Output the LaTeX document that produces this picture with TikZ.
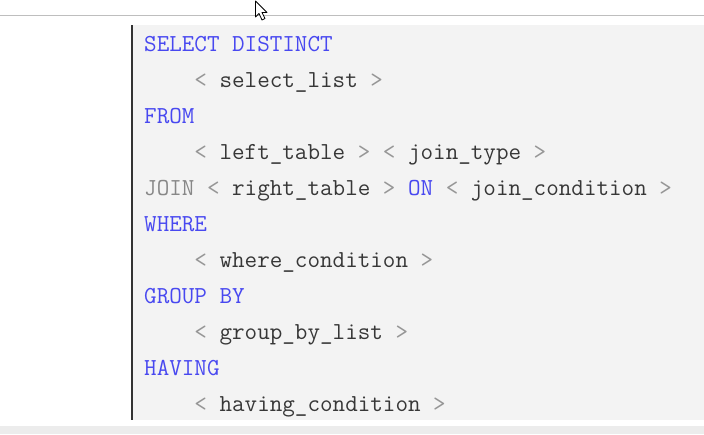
\documentclass[tikz,border=0pt]{standalone}
\usepackage{fontspec}
\definecolor{kw}{RGB}{72,72,240}
\definecolor{br}{RGB}{150,150,150}
\definecolor{idf}{RGB}{55,55,55}
\definecolor{jn}{RGB}{135,135,135}
\definecolor{boxbg}{RGB}{243,243,243}
\definecolor{band}{RGB}{236,236,236}
\definecolor{topline}{RGB}{190,190,190}
\begin{document}
\begin{tikzpicture}[x=1pt,y=-1pt,
  codeline/.style={anchor=base west,inner sep=0pt,font=\ttfamily\fontsize{24.4}{28}\selectfont}]
\newcommand{\K}[1]{\textcolor{kw}{#1}}
\newcommand{\B}[1]{\textcolor{br}{#1}}
\newcommand{\I}[1]{\textcolor{idf}{#1}}
\useasboundingbox (0,0) rectangle (704,434);
\fill[white] (0,0) rectangle (704,434);
% top line
\draw[topline,line width=1pt] (0,15.5) -- (704,15.5);
% code box
\fill[boxbg] (132,25) rectangle (704,420);
\draw[black!80,line width=1.6pt] (132,25) -- (132,420);
% bottom band
\fill[band] (0,426) rectangle (704,434);
% cursor
\draw[black,fill=white,line width=0.8pt,line join=round] (255.5,1) -- (255.5,17) -- (259,13.5) -- (262,20) -- (265,18.5) -- (262,12.5) -- (267,12.5) -- cycle;
% code
\node[codeline] (l1) at (144,51.5) {\K{SELECT DISTINCT}};
\node[codeline] (l2) at (144,87.5) {\phantom{xxxx}\B{<} \I{select\_list} \B{>}};
\node[codeline] (l3) at (144,123.5) {\K{FROM}};
\node[codeline] (l4) at (144,159.5) {\phantom{xxxx}\B{<} \I{left\_table} \B{>} \B{<} \I{join\_type} \B{>}};
\node[codeline] (l5) at (144,195.5) {\textcolor{jn}{JOIN} \B{<} \I{right\_table} \B{>} \K{ON} \B{<} \I{join\_condition} \B{>}};
\node[codeline] (l6) at (144,231.5) {\K{WHERE}};
\node[codeline] (l7) at (144,267.5) {\phantom{xxxx}\B{<} \I{where\_condition} \B{>}};
\node[codeline] (l8) at (144,303.5) {\K{GROUP BY}};
\node[codeline] (l9) at (144,339.5) {\phantom{xxxx}\B{<} \I{group\_by\_list} \B{>}};
\node[codeline] (l10) at (144,375.5) {\K{HAVING}};
\node[codeline] (l11) at (144,411.5) {\phantom{xxxx}\B{<} \I{having\_condition} \B{>}};
\end{tikzpicture}
\end{document}
